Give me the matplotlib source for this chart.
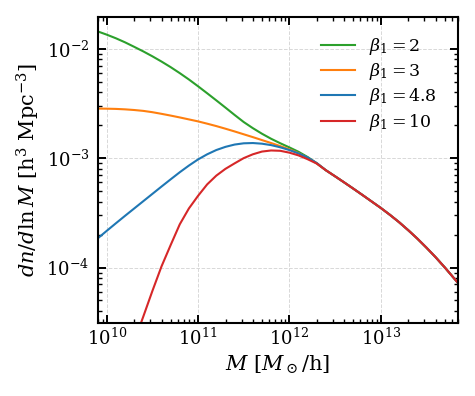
import numpy as np
import matplotlib
matplotlib.use("Agg")
import matplotlib.pyplot as plt

plt.rcParams['font.family'] = 'DejaVu Serif'
plt.rcParams['mathtext.fontset'] = 'dejavuserif'

# values, as log10(M) and log10(dn/dlnM)
# high-mass part, where all four curves lie on top of each other
tail_logM = [12.4, 12.5, 12.6, 12.7, 12.8, 12.9, 13.0, 13.1, 13.2, 13.3, 13.4, 13.5, 13.6, 13.7, 13.84]
tail_logn = [-3.111, -3.166, -3.222, -3.279, -3.337, -3.396, -3.455, -3.518, -3.585, -3.658,
             -3.735, -3.818, -3.905, -3.998, -4.135]

green_logM = [9.9, 10.0, 10.1, 10.2, 10.3, 10.4, 10.5, 10.6, 10.7, 10.8, 10.9, 11.0, 11.1,
              11.2, 11.3, 11.4, 11.5, 11.6, 11.7, 11.8, 11.9, 12.0, 12.1, 12.2, 12.3]
green_logn = [-1.841, -1.871, -1.904, -1.941, -1.982, -2.024, -2.069, -2.117, -2.168, -2.223,
              -2.281, -2.343, -2.407, -2.472, -2.538, -2.605, -2.670, -2.726, -2.777, -2.823,
              -2.864, -2.902, -2.942, -2.99, -3.048]

orange_logM = [9.9, 10.0, 10.1, 10.2, 10.3, 10.4, 10.5, 10.6, 10.7, 10.8, 10.9, 11.0, 11.1,
               11.2, 11.3, 11.4, 11.5, 11.6, 11.7, 11.8, 11.9, 12.0, 12.1, 12.2, 12.3]
orange_logn = [-2.547, -2.548, -2.550, -2.554, -2.560, -2.568, -2.580, -2.595, -2.611, -2.628,
               -2.646, -2.664, -2.685, -2.707, -2.731, -2.756, -2.782, -2.808, -2.835, -2.862,
               -2.89, -2.92, -2.955, -2.997, -3.047]

blue_logM = [9.9, 10.0, 10.1, 10.2, 10.3, 10.4, 10.5, 10.6, 10.7, 10.8, 10.9, 11.0, 11.1,
             11.2, 11.3, 11.4, 11.5, 11.6, 11.7, 11.8, 11.9, 12.0, 12.1, 12.2, 12.3]
blue_logn = [-3.735, -3.665, -3.596, -3.528, -3.461, -3.394, -3.327, -3.260, -3.194, -3.129,
             -3.068, -3.012, -2.965, -2.926, -2.897, -2.876, -2.8645, -2.862, -2.868, -2.881,
             -2.901, -2.926, -2.957, -2.994, -3.045]

red_logM = [10.3, 10.4, 10.5, 10.6, 10.7, 10.8, 10.9, 11.0, 11.1, 11.2, 11.3, 11.4, 11.5,
            11.6, 11.7, 11.8, 11.9, 12.0, 12.1, 12.2, 12.3]
red_logn = [-4.68, -4.45, -4.215, -3.99, -3.795, -3.605, -3.46, -3.345, -3.24, -3.16, -3.098,
            -3.048, -3.0, -2.965, -2.94, -2.93, -2.933, -2.95, -2.975, -3.01, -3.05]

labels = [r'$\beta_1=2$', r'$\beta_1=3$', r'$\beta_1=4.8$', r'$\beta_1=10$']
colors = ['#2ca02c', '#ff7f0e', '#1f77b4', '#d62728']

fig = plt.figure(figsize=(4.75, 3.96), dpi=100)
ax = fig.add_axes([0.206, 0.184, 0.758, 0.773])

curves = [(green_logM, green_logn), (orange_logM, orange_logn),
          (blue_logM, blue_logn), (red_logM, red_logn)]
for (lm, ln), c, lab in zip(curves, colors, labels):
    x = 10.0 ** np.array(lm + tail_logM)
    y = 10.0 ** np.array(ln + tail_logn)
    ax.plot(x, y, color=c, lw=1.5, label=lab)

ax.set_xscale('log')
ax.set_yscale('log')
ax.set_xlim(8e9, 7e13)
ax.set_ylim(3.1e-5, 1.95e-2)

ax.set_xlabel(r'$M$ [$M_\odot$/h]', fontsize=15, labelpad=3)
ax.set_ylabel(r'$dn/d\ln M$ [h$^3$ Mpc$^{-3}$]', fontsize=15, labelpad=3)

ax.grid(True, which='major', ls='--', lw=0.7, color='#d8d8d8')
ax.tick_params(which='both', direction='in', top=True, right=True, labelsize=13)
ax.tick_params(which='major', length=6, width=1.4)
ax.tick_params(which='minor', length=3, width=1.0)
ax.tick_params(axis='y', which='major', pad=6)
for s in ax.spines.values():
    s.set_linewidth(1.5)

ax.legend(loc='upper right', frameon=False, fontsize=12.5, handlelength=2.0,
          labelspacing=0.25, borderaxespad=0.5, bbox_to_anchor=(0.985, 0.99))

fig.savefig('out.png', dpi=100)
